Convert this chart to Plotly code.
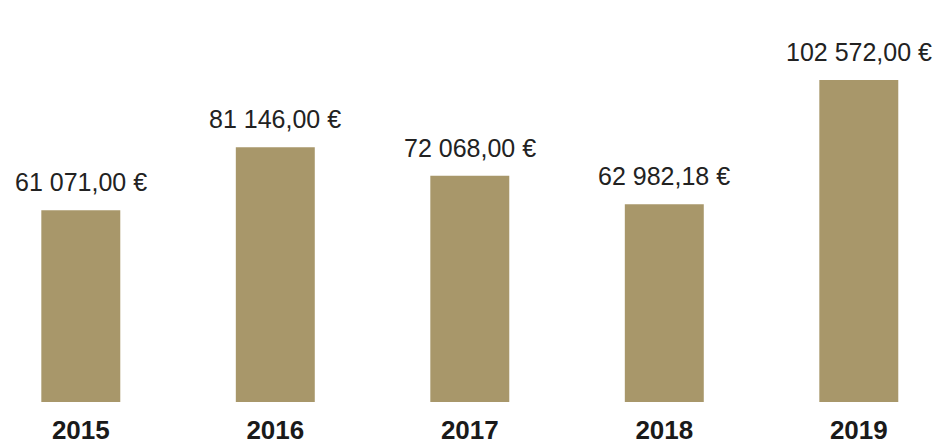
import plotly.graph_objects as go

years = ["2015", "2016", "2017", "2018", "2019"]
values = [61071.00, 81146.00, 72068.00, 62982.18, 102572.00]


def fmt(v):
    s = f"{v:,.2f}"
    return s.replace(",", " ").replace(".", ",") + " €"


labels = [fmt(v) for v in values]

fig = go.Figure(
    go.Bar(
        x=years,
        y=values,
        width=0.406,
        marker=dict(color="#a8976a", line=dict(width=0)),
        hoverinfo="skip",
    )
)

for i, (v, t) in enumerate(zip(values, labels)):
    fig.add_annotation(
        x=i, y=v, xref="x", yref="y", text=t, showarrow=False,
        yanchor="bottom", yshift=12,
        font=dict(family="Liberation Sans, Arial, sans-serif", size=25, color="#222222"),
    )

fig.update_layout(
    width=935,
    height=438,
    margin=dict(l=0, r=0, t=0, b=44),
    paper_bgcolor="white",
    plot_bgcolor="white",
    showlegend=False,
    xaxis=dict(
        type="category",
        range=[-0.3743, 4.4329],
        showgrid=False,
        showline=False,
        zeroline=False,
        ticks="",
        ticklabelstandoff=10,
        tickfont=dict(family="Liberation Sans, Arial, sans-serif", size=26, color="#1a1a1a", weight="bold"),
    ),
    yaxis=dict(
        range=[0, 125508],
        visible=False,
        showgrid=False,
        zeroline=False,
    ),
)

fig.write_html("out.html")
